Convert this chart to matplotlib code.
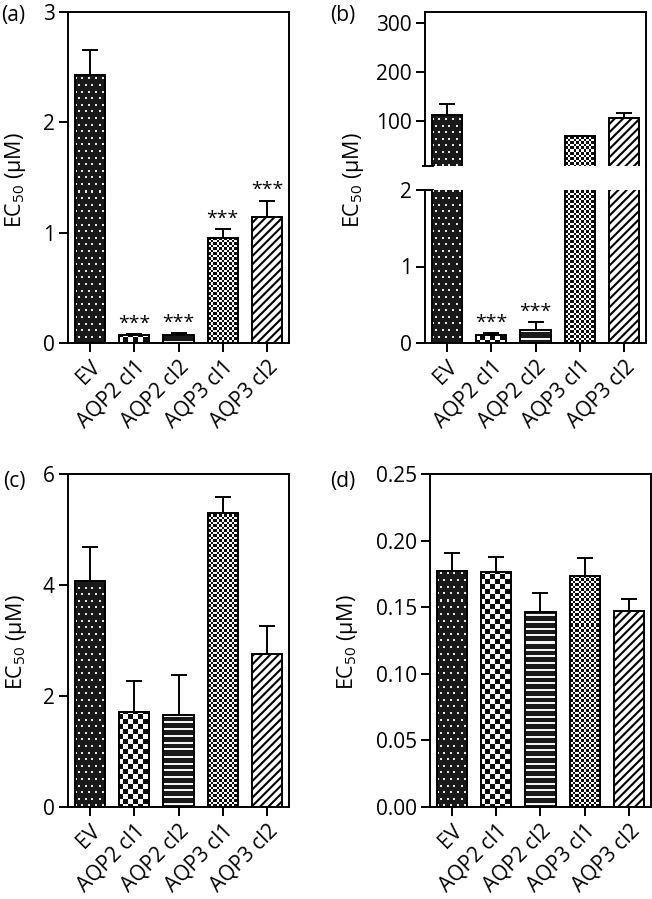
import numpy as np
import matplotlib
matplotlib.use('Agg')
import matplotlib.pyplot as plt
from matplotlib.lines import Line2D
from matplotlib.ticker import FormatStrFormatter

plt.rcParams['font.family'] = ['Open Sans', 'DejaVu Sans']
plt.rcParams['mathtext.fontset'] = 'custom'
plt.rcParams['mathtext.rm'] = 'Open Sans'
plt.rcParams['hatch.linewidth'] = 1.5

W, H = 652, 899

labels = ['EV', 'AQP2 cl1', 'AQP2 cl2', 'AQP3 cl1', 'AQP3 cl2']
patterns = ['dots', 'checker', 'hstripe', 'finechecker', 'diag']

# (a)
a_mean = [2.43, 0.07, 0.07, 0.95, 1.14]
a_err = [0.23, 0.01, 0.02, 0.08, 0.15]
a_sig = ['', '***', '***', '***', '***']

# (b) - broken axis
b_mean = [112, 0.10, 0.17, 70, 107]
b_err = [23, 0.025, 0.10, 0, 9]
b_sig = ['', '***', '***', '', '']

# (c)
c_mean = [4.07, 1.71, 1.66, 5.29, 2.75]
c_err = [0.62, 0.56, 0.71, 0.30, 0.51]

# (d)
d_mean = [0.1775, 0.1768, 0.1467, 0.1737, 0.147]
d_err = [0.0131, 0.0108, 0.0138, 0.0131, 0.009]

LW = 1.4
FS = 15
ylab = r'EC$_{\mathregular{50}}$ (μM)'

fig = plt.figure(figsize=(W / 100, H / 100), dpi=100)
fig.suppressComposite = True


def add_ax(left, top, right, bottom):
    return fig.add_axes([left / W, 1 - bottom / H, (right - left) / W, (bottom - top) / H])


def pattern_img(kind, w, h):
    yy, xx = np.mgrid[0:h, 0:w].astype(float)
    if kind == 'dots':
        row = np.floor(yy / 6.6)
        on = ((yy % 6.6) < 2) & (((xx - (row % 2) * 3.25) % 6.5) < 2)
        return np.where(on, 0.9, 0.1)
    if kind == 'checker':
        return ((np.floor(xx / 5) + np.floor(yy / 5)) % 2) * 0.95 + 0.05
    if kind == 'finechecker':
        return ((np.floor(xx / 2.5) + np.floor(yy / 2.5)) % 2) * 0.95 + 0.05
    if kind == 'hstripe':
        return np.where((yy % 6.7) < 2, 0.95, 0.1)
    return np.ones((h, w))


def draw_bars(ax, means, errs, pw, ph):
    x = np.arange(len(means))
    ax.errorbar(x, means, yerr=[np.zeros(len(errs)), errs], fmt='none', ecolor='black',
                elinewidth=LW, capsize=6, capthick=LW, zorder=1)
    bars = ax.bar(x, means, width=0.68, color='white', edgecolor='black', linewidth=0, zorder=2)
    for bar, kind in zip(bars, patterns):
        if kind == 'diag':
            bar.set_hatch('////')
            continue
        im = ax.imshow(pattern_img(kind, pw, ph), cmap='gray', vmin=0, vmax=1,
                       extent=(0, 1, 0, 1), transform=ax.transAxes, aspect='auto',
                       interpolation='nearest', zorder=2.5)
        im.set_clip_path(bar)
    ax.bar(x, means, width=0.68, facecolor='none', edgecolor='black', linewidth=LW, zorder=3)
    ax.set_xlim(-0.5, len(means) - 0.5)
    return x


def style(ax, xlabels=True):
    for s in ax.spines.values():
        s.set_linewidth(LW)
    ax.tick_params(direction='out', length=6.5, width=LW, labelsize=FS, pad=3)
    if xlabels:
        ax.set_xticks(np.arange(len(labels)))
        ax.set_xticklabels(labels, rotation=45, ha='right', rotation_mode='anchor')
    else:
        ax.set_xticks([])


def stars(ax, x, means, errs, sig):
    for xi, m, e, s in zip(x, means, errs, sig):
        if s:
            ax.annotate(s, xy=(xi, m + e), xytext=(0, 1), textcoords='offset points',
                        ha='center', va='bottom', fontsize=14)


# panel (a)
ax = add_ax(68, 12, 289, 343)
x = draw_bars(ax, a_mean, a_err, 221, 331)
ax.set_ylim(0, 3)
ax.set_yticks([0, 1, 2, 3])
style(ax)
stars(ax, x, a_mean, a_err, a_sig)

# panel (b): upper and lower segments
ax_u = add_ax(425, 12, 646, 166)
draw_bars(ax_u, b_mean, b_err, 221, 154)
ax_u.set_ylim(9, 322)
ax_u.set_yticks([100, 200, 300])
style(ax_u, xlabels=False)
ax_u.spines['bottom'].set_visible(False)
ax_u.plot([-0.01, 0.036], [0, 0], transform=ax_u.transAxes, color='black', lw=LW, clip_on=False)

ax_l = add_ax(425, 190, 646, 343)
x = draw_bars(ax_l, b_mean, b_err, 221, 153)
ax_l.set_ylim(0, 2)
ax_l.set_yticks([0, 1, 2])
style(ax_l)
ax_l.spines['top'].set_visible(False)
ax_l.plot([0, 0.036], [1, 1], transform=ax_l.transAxes, color='black', lw=LW, clip_on=False)
stars(ax_l, x, b_mean, b_err, b_sig)
fig.add_artist(Line2D([646 / W, 646 / W], [1 - 166 / H, 1 - 190 / H], color='black', lw=LW))

# panel (c)
ax = add_ax(68, 474, 289, 807)
draw_bars(ax, c_mean, c_err, 221, 333)
ax.set_ylim(0, 6)
ax.set_yticks([0, 2, 4, 6])
style(ax)

# panel (d)
ax = add_ax(430, 474, 651, 807)
draw_bars(ax, d_mean, d_err, 221, 333)
ax.set_ylim(0, 0.25)
ax.set_yticks([0, 0.05, 0.10, 0.15, 0.20, 0.25])
ax.yaxis.set_major_formatter(FormatStrFormatter('%.2f'))
style(ax)

# y labels and panel letters
for xc, yc in [(16, 180), (353, 180), (17, 642), (348, 642)]:
    fig.text(xc / W, 1 - yc / H, ylab, rotation=90, ha='center', va='center', fontsize=15.5)
for s, xl, yc in [('(a)', 1, 15), ('(b)', 330, 15), ('(c)', 3, 481), ('(d)', 330, 481)]:
    fig.text(xl / W, 1 - yc / H, s, ha='left', va='center', fontsize=FS)

fig.savefig('out.png', dpi=100)
